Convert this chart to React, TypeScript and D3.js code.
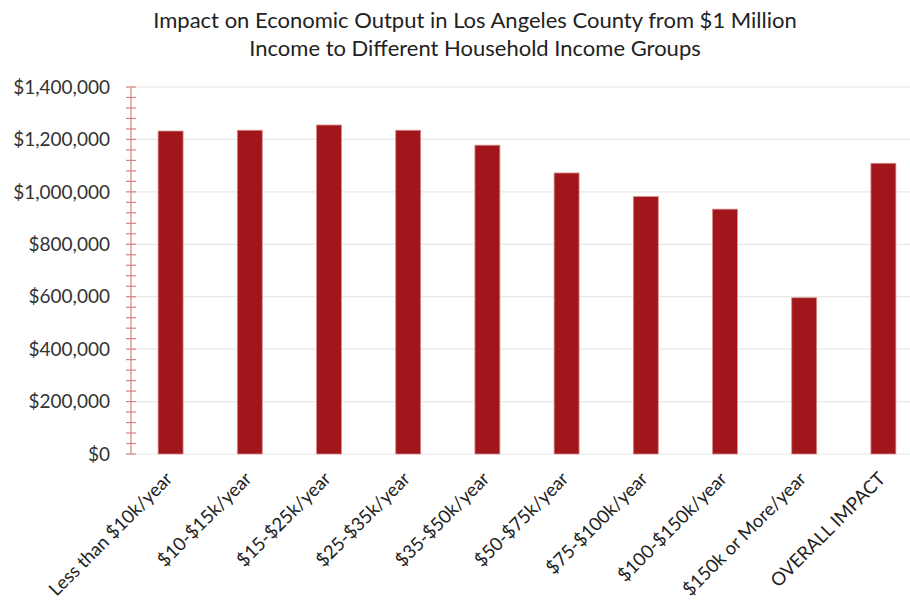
import React from "react";
import * as d3 from "d3";

const categories = [
  "Less than $10k/year",
  "$10-$15k/year",
  "$15-$25k/year",
  "$25-$35k/year",
  "$35-$50k/year",
  "$50-$75k/year",
  "$75-$100k/year",
  "$100-$150k/year",
  "$150k or More/year",
  "OVERALL IMPACT",
];
const values = [1232000, 1235000, 1255000, 1235000, 1178000, 1072000, 982000, 934000, 596000, 1109000];
const yTicks = [0, 200000, 400000, 600000, 800000, 1000000, 1200000, 1400000];
const titleLines = [
  "Impact on Economic Output in Los Angeles County from $1 Million",
  "Income to Different Household Income Groups",
];

const W = 910;
const H = 609;
const FONT = "Lato, 'Open Sans', sans-serif";

export default function App() {
  const x = d3.scaleBand<string>().domain(categories).range([131, 923]).paddingInner(0.685).paddingOuter(0.3425);
  const y = d3.scaleLinear().domain([0, 1400000]).range([454, 87]);
  const minor = d3.range(0, 1400001, 40000);
  const fmt = (v: number) => "$" + d3.format(",")(v);
  const axisX = 131;
  const axisColor = "#d98080";
  return (
    <svg width={W} height={H} style={{ position: "absolute", left: 0, top: 0, background: "#fff" }} fontFamily={FONT}>
      {titleLines.map((t, i) => (
        <text key={i} x={475} y={28 + i * 28} textAnchor="middle" fontSize={22} fill="#222">
          {t}
        </text>
      ))}
      {yTicks.map((v) => (
        <line key={"g" + v} x1={axisX} x2={W} y1={y(v)} y2={y(v)} stroke="#e8e8e8" strokeWidth={1.2} />
      ))}
      {categories.map((c, i) => (
        <rect
          key={c}
          x={x(c)}
          y={y(values[i])}
          width={x.bandwidth()}
          height={y(0) - y(values[i])}
          fill="#a0161b"
          stroke="#d98a8a"
          strokeWidth={0.8}
        />
      ))}
      <line x1={axisX} x2={axisX} y1={y(1400000)} y2={y(0)} stroke={axisColor} strokeWidth={1.2} />
      {minor.map((v) => (
        <line key={"t" + v} x1={axisX - 5} x2={axisX + 5} y1={y(v)} y2={y(v)} stroke={axisColor} strokeWidth={1.2} />
      ))}
      {yTicks.map((v) => (
        <text key={"l" + v} x={110} y={y(v)} dy="0.35em" textAnchor="end" fontSize={19} fill="#333">
          {fmt(v)}
        </text>
      ))}
      {categories.map((c) => {
        const cx = (x(c) as number) + x.bandwidth() / 2 + 3;
        return (
          <text
            key={"x" + c}
            transform={`translate(${cx},${480}) rotate(-45)`}
            textAnchor="end"
            fontSize={18.5}
            fill="#222"
          >
            {c}
          </text>
        );
      })}
    </svg>
  );
}
